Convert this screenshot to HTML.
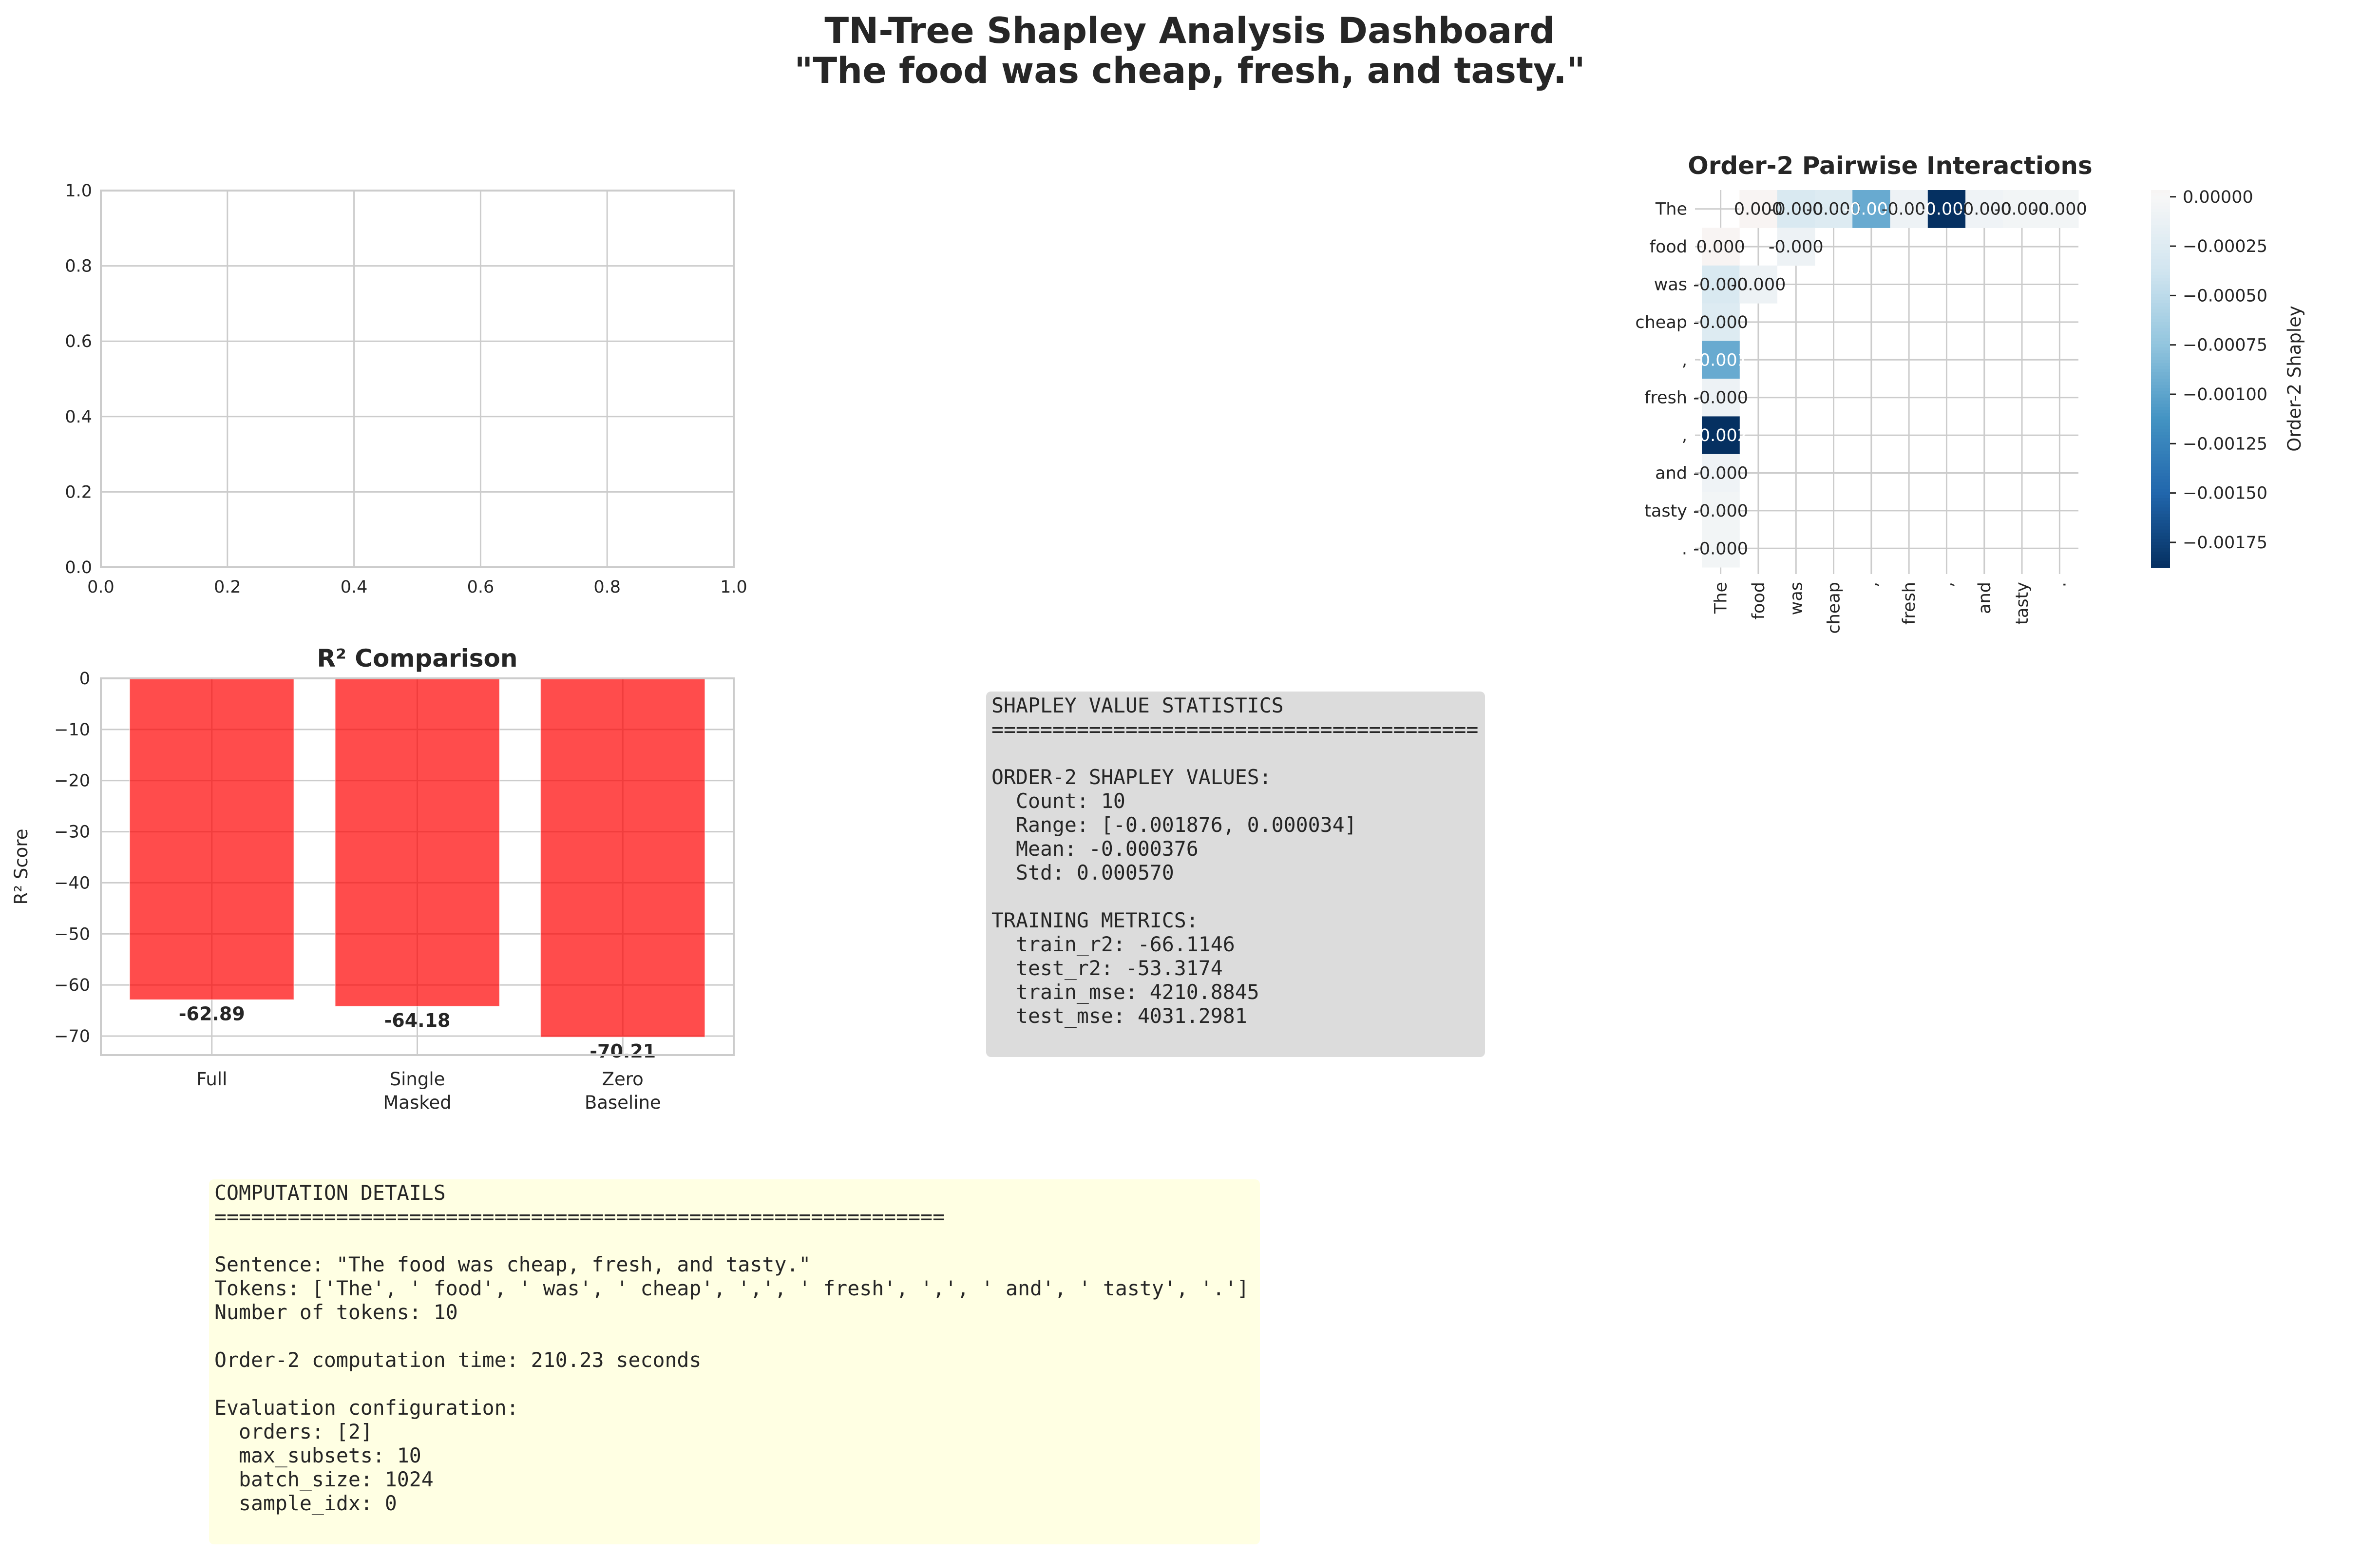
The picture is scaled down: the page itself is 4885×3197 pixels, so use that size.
<!DOCTYPE html>
<html><head><meta charset="utf-8"><style>
html,body{margin:0;padding:0;background:#fff;}
svg text{font-family:"DejaVu Sans","Liberation Sans",sans-serif;fill:#262626;}
.mono{font-family:"DejaVu Sans Mono","Liberation Mono",monospace;font-size:41.5px;fill:#262626;white-space:pre;}
</style></head><body>
<svg id="root" xmlns="http://www.w3.org/2000/svg" width="4885" height="3192" viewBox="0 0 4885 3192">
<rect width="4885" height="3192" fill="#fff"/>
<text x="2442" y="88" text-anchor="middle" font-size="73" font-weight="bold">TN-Tree Shapley Analysis Dashboard</text>
<text x="2442" y="170" text-anchor="middle" font-size="73" font-weight="bold">"The food was cheap, fresh, and tasty."</text>
<g id="empty"></g>
<g id="bars"></g>
<g id="heat"></g>
<g>
<rect x="2024" y="1419" width="1024" height="750" rx="10" fill="#dcdcdc"/>
<g id="statsText"></g>
</g>
<g>
<rect x="429" y="2420" width="2157" height="749" rx="10" fill="#ffffe3"/>
<g id="compText"></g>
</g>
</svg>
<script>
const NS="http://www.w3.org/2000/svg";
function mk(parent,tag,attrs,txt){const e=document.createElementNS(NS,tag);for(const k in attrs)e.setAttribute(k,attrs[k]);if(txt!==undefined)e.textContent=txt;parent.appendChild(e);return e;}
const GRID="#cccccc";

// ---------- data ----------
const barCategories=["Full","Single\nMasked","Zero\nBaseline"];
const barValues=[-62.89,-64.18,-70.21];
const barTicks=[0,-10,-20,-30,-40,-50,-60,-70];
const tokens=["The","food","was","cheap",",","fresh",",","and","tasty","."];
const firstRowValues=[null,0.000034,-0.00030,-0.00026,-0.00095,-0.00010,-0.001876,-0.00008,-0.00005,-0.00005];
const pairFoodWas=-0.00010;
const cbTicks=[0,-0.00025,-0.0005,-0.00075,-0.001,-0.00125,-0.0015,-0.00175];
const emptyTicks=[0,0.2,0.4,0.6,0.8,1.0];
const statsLines=["SHAPLEY VALUE STATISTICS","========================================","","ORDER-2 SHAPLEY VALUES:","  Count: 10","  Range: [-0.001876, 0.000034]","  Mean: -0.000376","  Std: 0.000570","","TRAINING METRICS:","  train_r2: -66.1146","  test_r2: -53.3174","  train_mse: 4210.8845","  test_mse: 4031.2981"];
const compLines=["COMPUTATION DETAILS","============================================================","","Sentence: \"The food was cheap, fresh, and tasty.\"","Tokens: ['The', ' food', ' was', ' cheap', ',', ' fresh', ',', ' and', ' tasty', '.']","Number of tokens: 10","","Order-2 computation time: 210.23 seconds","","Evaluation configuration:","  orders: [2]","  max_subsets: 10","  batch_size: 1024","  sample_idx: 0"];

// ---------- empty axes ----------
(function(){
const g=document.getElementById('empty');
const L=207,R=1506,T=391,B=1164;
const sx=v=>L+v*(R-L), sy=v=>B-v*(B-T);
emptyTicks.forEach(t=>{
 const gl=mk(g,'line',{x1:sx(t),x2:sx(t),y1:T,y2:B,stroke:GRID,'stroke-width':3});
 
 const hl=mk(g,'line',{x1:L,x2:R,y1:sy(t),y2:sy(t),stroke:GRID,'stroke-width':3});
 
 const xt=mk(g,'text',{x:sx(t),y:B+52,'text-anchor':'middle','font-size':35},t.toFixed(1));
 
 const yt=mk(g,'text',{x:L-18,y:sy(t)+12,'text-anchor':'end','font-size':35},t.toFixed(1));
 
});
const fr=mk(g,'rect',{x:L,y:T,width:R-L,height:B-T,fill:'none',stroke:GRID,'stroke-width':4});

})();

// ---------- bar chart ----------
(function(){
const g=document.getElementById('bars');
const L=207,R=1506,T=1392,B=2165;
const ymin=-73.72,ymax=0;
const sy=v=>T+(ymax-v)/(ymax-ymin)*(B-T);
const xmin=-0.54,xmax=2.54;
const sx=i=>L+(i-xmin)/(xmax-xmin)*(R-L);
barTicks.forEach(t=>{
 const hl=mk(g,'line',{x1:L,x2:R,y1:sy(t),y2:sy(t),stroke:GRID,'stroke-width':3});
 
 const yt=mk(g,'text',{x:L-22,y:sy(t)+12,'text-anchor':'end','font-size':35},t===0?'0':'\u2212'+Math.abs(t));
 
});
barCategories.forEach((c,i)=>{
 const vl=mk(g,'line',{x1:sx(i),x2:sx(i),y1:T,y2:B,stroke:GRID,'stroke-width':3});
 
});
const bw=0.8*(sx(1)-sx(0));
barCategories.forEach((c,i)=>{
 const v=barValues[i];
 const r=mk(g,'rect',{x:sx(i)-bw/2,y:sy(0),width:bw,height:sy(v)-sy(0),fill:'rgba(255,0,0,0.7)',stroke:'rgba(255,255,255,0.5)','stroke-width':2});
 
 const lb=mk(g,'text',{x:sx(i),y:sy(v)+42,'text-anchor':'middle','font-size':38,'font-weight':'bold'},v.toFixed(2));
 
 c.split('\n').forEach((ln,k)=>{
  const xt=mk(g,'text',{x:sx(i),y:B+62+k*48,'text-anchor':'middle','font-size':37},ln);
  
 });
});
const fr=mk(g,'rect',{x:L,y:T,width:R-L,height:B-T,fill:'none',stroke:GRID,'stroke-width':4});

const tt=mk(g,'text',{x:(L+R)/2,y:T-24,'text-anchor':'middle','font-size':50,'font-weight':'bold'},'R² Comparison');

const yl=mk(g,'text',{x:0,y:0,'text-anchor':'middle','font-size':37,transform:'translate(56,'+((T+B)/2)+') rotate(-90)'},'R² Score');

})();

// ---------- heatmap ----------
(function(){
const g=document.getElementById('heat');
const n=tokens.length;
const M=[];for(let i=0;i<n;i++){M.push(new Array(n).fill(null));}
for(let j=1;j<n;j++){M[0][j]=firstRowValues[j];M[j][0]=firstRowValues[j];}
M[1][2]=pairFoodWas;M[2][1]=pairFoodWas;
const L=3493,R=4266,T=390,B=1164;
const cw=(R-L)/n,ch=(B-T)/n;
const vmin=-0.001876,vmax=0.000034;
const lim=Math.max(Math.abs(vmin),Math.abs(vmax));
const stops=[[0,[5,48,97]],[0.1,[33,102,172]],[0.2,[67,147,195]],[0.3,[146,197,222]],[0.4,[209,229,240]],[0.5,[247,247,247]],[0.6,[253,219,199]],[0.7,[244,165,130]],[0.8,[214,96,77]],[0.9,[178,24,43]],[1,[103,0,31]]];
function cmap(v){let t=(v+lim)/(2*lim);t=Math.max(0,Math.min(1,t));for(let k=1;k<stops.length;k++){if(t<=stops[k][0]){const a=stops[k-1],b=stops[k];const f=(t-a[0])/(b[0]-a[0]);const c=a[1].map((x,q)=>Math.round(x+(b[1][q]-x)*f));return 'rgb('+c.join(',')+')';}}return 'rgb(103,0,31)';}
function lum(v){let t=(v+lim)/(2*lim);return t<0.27;}
for(let i=0;i<n;i++){
 const cx=L+cw*(i+0.5),cy=T+ch*(i+0.5);
 const vl=mk(g,'line',{x1:cx,x2:cx,y1:T,y2:B+14,stroke:GRID,'stroke-width':3});
 
 const hl=mk(g,'line',{x1:L-14,x2:R,y1:cy,y2:cy,stroke:GRID,'stroke-width':3});
 
}
for(let i=0;i<n;i++)for(let j=0;j<n;j++){
 const v=M[i][j];if(v===null)continue;
 const c=mk(g,'rect',{x:L+cw*j,y:T+ch*i,width:cw+0.5,height:ch+0.5,fill:cmap(v)});
 
}
for(let i=0;i<n;i++)for(let j=0;j<n;j++){
 const v=M[i][j];if(v===null)continue;
 const t=mk(g,'text',{x:L+cw*(j+0.5),y:T+ch*(i+0.5)+12,'text-anchor':'middle','font-size':35,style:'fill:'+(lum(v)?'#fff':'#262626')},v.toFixed(3));
 
}
tokens.forEach((tk,i)=>{
 const yt=mk(g,'text',{x:L-30,y:T+ch*(i+0.5)+12,'text-anchor':'end','font-size':35},tk);
 
 const xt=mk(g,'text',{x:0,y:0,'text-anchor':'end','font-size':35,transform:'translate('+(L+cw*(i+0.5)+12)+','+(B+30)+') rotate(-90)'},tk);
 
});
const tt=mk(g,'text',{x:(L+R)/2,y:T-33,'text-anchor':'middle','font-size':50,'font-weight':'bold'},'Order-2 Pairwise Interactions');

const CL=4415,CR=4454;
const cs=v=>T+(vmax-v)/(vmax-vmin)*(B-T);
const N=120;
for(let k=0;k<N;k++){
 const v1=vmax-(vmax-vmin)*k/N;
 const s=mk(g,'rect',{x:CL,y:T+(B-T)*k/N,width:CR-CL,height:(B-T)/N+1,fill:cmap(v1-(vmax-vmin)/(2*N))});
 
}
cbTicks.forEach(t=>{
 const y=cs(t);
 const tm=mk(g,'line',{x1:CR,x2:CR+12,y1:y,y2:y,stroke:'#262626','stroke-width':3});
 
 const lb=mk(g,'text',{x:CR+26,y:y+12,'font-size':35},(t===0?'0.00000':'\u2212'+Math.abs(t).toFixed(5)));
 
});
const cl=mk(g,'text',{x:0,y:0,'text-anchor':'middle','font-size':37,transform:'translate(4722,'+((T+B)/2)+') rotate(-90)'},'Order-2 Shapley');

})();

// ---------- text boxes ----------
(function(){
const sg=document.getElementById('statsText');
statsLines.forEach((ln,i)=>{
 const t=mk(sg,'text',{x:2035,y:1462+i*49,'class':'mono','xml:space':'preserve'},ln);
 
});
const cg=document.getElementById('compText');
compLines.forEach((ln,i)=>{
 const t=mk(cg,'text',{x:440,y:2462+i*49,'class':'mono','xml:space':'preserve'},ln);
 
});
})();
</script>
</body></html>
